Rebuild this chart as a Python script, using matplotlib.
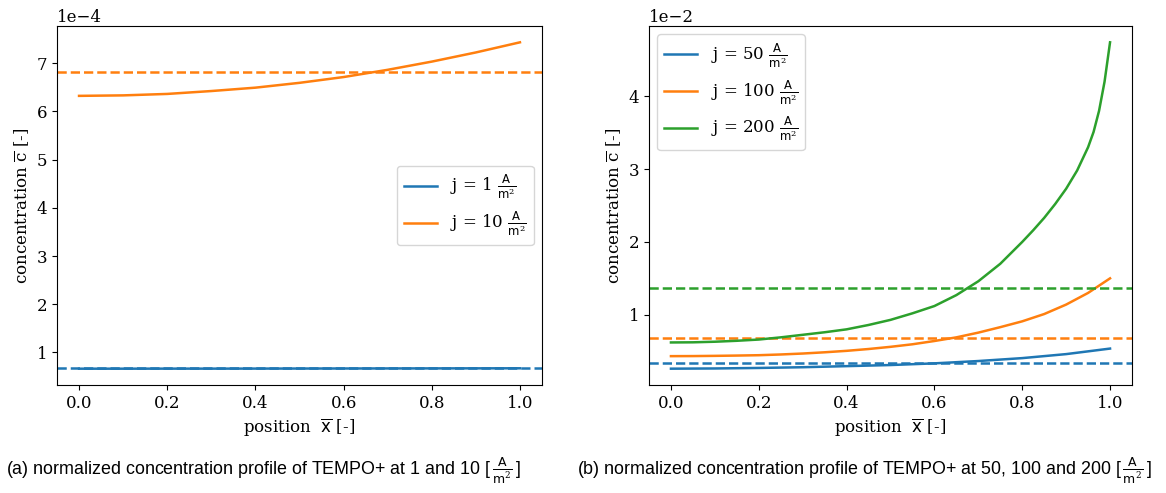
import numpy as np
import matplotlib
matplotlib.use("Agg")
import matplotlib.pyplot as plt
from matplotlib.ticker import MultipleLocator

plt.rcParams["font.family"] = "DejaVu Serif"
plt.rcParams["mathtext.fontset"] = "dejavuserif"
plt.rcParams["font.size"] = 12

# --- low current densities (1e-4 scale) ---
x_low = [0.0, 0.1, 0.2, 0.3, 0.4, 0.5, 0.6, 0.7, 0.8, 0.9, 1.0]
c_j1 = np.array([0.664, 0.664, 0.665, 0.665, 0.666, 0.667, 0.668, 0.669, 0.670, 0.671, 0.672]) * 1e-4
c_j10 = np.array([6.32, 6.33, 6.36, 6.42, 6.49, 6.59, 6.71, 6.86, 7.03, 7.22, 7.43]) * 1e-4
mean_j1 = 0.683e-4
mean_j10 = 6.82e-4

# --- high current densities (1e-2 scale) ---
x_50 = [0.0, 0.1, 0.2, 0.3, 0.4, 0.5, 0.6, 0.7, 0.8, 0.9, 1.0]
c_j50 = np.array([0.260, 0.263, 0.270, 0.280, 0.295, 0.310, 0.333, 0.365, 0.405, 0.460, 0.536]) * 1e-2

x_100 = [0.0, 0.05, 0.1, 0.15, 0.2, 0.25, 0.3, 0.35, 0.4, 0.45, 0.5,
         0.55, 0.6, 0.65, 0.7, 0.75, 0.8, 0.85, 0.9, 0.95, 1.0]
c_j100 = np.array([0.432, 0.433, 0.436, 0.440, 0.445, 0.455, 0.468, 0.485, 0.505, 0.530, 0.560,
                   0.595, 0.640, 0.690, 0.755, 0.830, 0.910, 1.010, 1.140, 1.300, 1.500]) * 1e-2

x_200 = [0.0, 0.05, 0.1, 0.15, 0.2, 0.25, 0.3, 0.35, 0.4, 0.45, 0.5, 0.55, 0.6,
         0.65, 0.7, 0.75, 0.8, 0.825, 0.85, 0.875, 0.9, 0.925, 0.95, 0.9625,
         0.975, 0.9875, 1.0]
c_j200 = np.array([0.620, 0.622, 0.630, 0.643, 0.660, 0.690, 0.725, 0.760, 0.800, 0.860, 0.930,
                   1.020, 1.120, 1.270, 1.460, 1.700, 2.000, 2.160, 2.330, 2.520, 2.730,
                   2.980, 3.300, 3.510, 3.800, 4.200, 4.740]) * 1e-2
mean_j50 = 0.34e-2
mean_j100 = 0.688e-2
mean_j200 = 1.362e-2

unit = r"$\frac{\mathsf{A}}{\mathsf{m}^2}$"
unit_cap = r"$\,\frac{\mathsf{A}}{\mathsf{m}^2}\,$"
lw = 1.8

fig = plt.figure(figsize=(11.66, 4.93), dpi=100)
ax1 = fig.add_axes([57 / 1166, 108 / 493, 485 / 1166, 359 / 493])
ax2 = fig.add_axes([649 / 1166, 108 / 493, 483 / 1166, 359 / 493])

ax1.plot(x_low, c_j1, color="C0", lw=lw, label="j = 1 " + unit)
ax1.axhline(mean_j1, color="C0", ls="--", lw=lw)
ax1.plot(x_low, c_j10, color="C1", lw=lw, label="j = 10 " + unit)
ax1.axhline(mean_j10, color="C1", ls="--", lw=lw)
ax1.yaxis.set_major_locator(MultipleLocator(1e-4))
ax1.legend(loc="center right")

ax2.plot(x_50, c_j50, color="C0", lw=lw, label="j = 50 " + unit)
ax2.axhline(mean_j50, color="C0", ls="--", lw=lw)
ax2.plot(x_100, c_j100, color="C1", lw=lw, label="j = 100 " + unit)
ax2.axhline(mean_j100, color="C1", ls="--", lw=lw)
ax2.plot(x_200, c_j200, color="C2", lw=lw, label="j = 200 " + unit)
ax2.axhline(mean_j200, color="C2", ls="--", lw=lw)
ax2.yaxis.set_major_locator(MultipleLocator(1e-2))
ax2.legend(loc="upper left")

for ax in (ax1, ax2):
    ax.ticklabel_format(axis="y", style="sci", scilimits=(0, 0))
    ax.set_xlabel(r"position  $\overline{\mathsf{x}}$ [-]")
    ax.set_ylabel(r"concentration $\overline{\mathrm{c}}$ [-]")

cap = dict(family="Liberation Sans", fontsize=12.9, va="center")
fig.text(521 / 1166, 1 - 471 / 493,
         "(a) normalized concentration profile of TEMPO+ at 1 and 10 [" + unit_cap + "]",
         ha="right", **cap)
fig.text(577 / 1166, 1 - 471 / 493,
         "(b) normalized concentration profile of TEMPO+ at 50, 100 and 200 [" + unit_cap + "]",
         ha="left", **cap)

fig.savefig("out.png", dpi=100)
